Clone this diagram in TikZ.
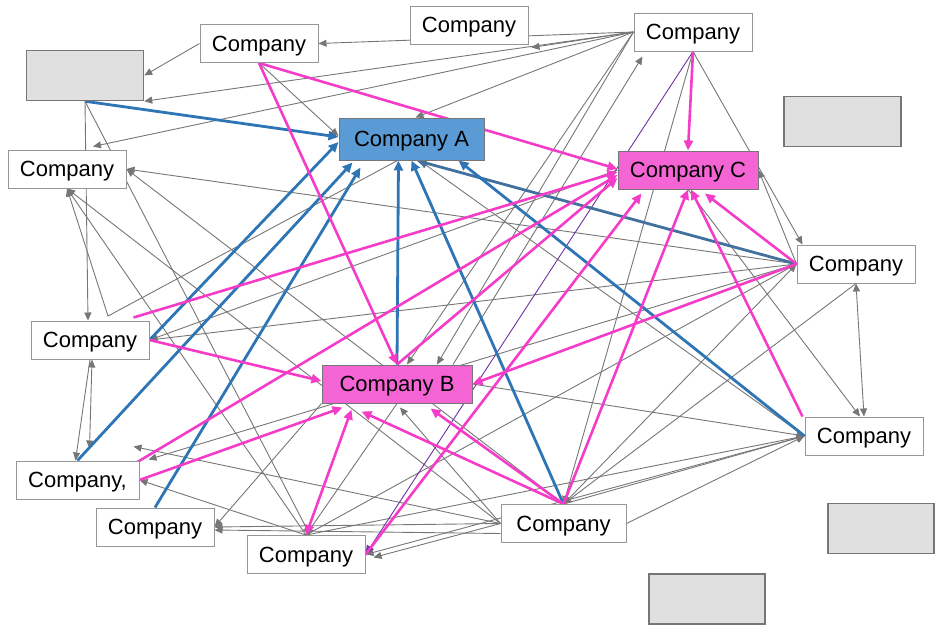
\documentclass[tikz,border=0pt]{standalone}
\usepackage{fontspec}
\setmainfont{Liberation Sans}
\usepackage{tikz}
\usetikzlibrary{arrows.meta,calc,backgrounds}
\definecolor{edgegray}{RGB}{118,118,118}
\definecolor{boxgray}{RGB}{150,150,150}
\definecolor{blankfill}{RGB}{224,224,224}
\definecolor{linkblue}{RGB}{46,117,182}
\definecolor{linksteel}{RGB}{65,113,156}
\definecolor{linkpink}{RGB}{245,60,200}
\definecolor{linkpurple}{RGB}{112,48,160}
\definecolor{firmblue}{RGB}{91,155,213}
\definecolor{firmpink}{RGB}{245,100,212}
\tikzset{
    company/.style = {rectangle, draw=boxgray, line width=1pt, fill=white, minimum width=118pt, minimum height=38pt, inner sep=0pt, text height=18pt, text depth=3pt, text centered, font=\fontsize{22}{26}\selectfont},
    blank/.style = {rectangle, draw=edgegray, line width=1.5pt, fill=blankfill, minimum width=117pt, minimum height=50pt},
    firmA/.style = {company, draw=edgegray, fill=firmblue, minimum width=145pt, minimum height=42pt},
    firmBC/.style = {company, draw=edgegray, fill=firmpink},
    gline/.style = {draw=edgegray, line width=0.9pt, -{Triangle[length=8pt,width=7pt]}},
    bline/.style = {draw=linkblue, line width=2.8pt, -{Triangle[length=10pt,width=9pt]}},
    pline/.style = {draw=linkpink, line width=2.6pt, -{Triangle[length=10pt,width=9pt]}}
}
\begin{document}
\begin{tikzpicture}[x=1pt, y=-1pt]
    \useasboundingbox (0,0) rectangle (935,625);

    % boxes
    \node [blank] (g1) at (85,75.5) {};
    \node [company] (t1) at (259,43.5) {Company};
    \node [company] (t2) at (469,25) {Company};
    \node [company] (t3) at (693,32) {Company};
    \node [blank] (g2) at (842.5,121.5) {};
    \node [firmA] (A) at (411.5,139) {Company A};
    \node [firmBC, minimum width=140pt] (C) at (688,170) {Company C};
    \node [company] (l1) at (67,169) {Company};
    \node [company] (r1) at (856,264) {Company};
    \node [company] (l2) at (90,340) {Company};
    \node [firmBC, minimum width=150pt] (B) at (397,384) {Company B};
    \node [company] (r2) at (864,436) {Company};
    \node [company, minimum width=123pt] (l3) at (77.5,480) {Company,};
    \node [company] (b1) at (155,527) {Company};
    \node [company] (b2) at (306,554.5) {Company};
    \node [company, minimum width=125pt] (b3) at (563.5,523.5) {Company};
    \node [blank, minimum width=106pt] (g3) at (881,528.5) {};
    \node [blank, minimum width=116pt] (g4) at (707,599) {};
    \coordinate (kink) at (108,316);

    \begin{pgfonlayer}{background}
    % grey links
    \draw [gline] (t3.west) -- (t1.east);
    \draw [gline] (t3.west) -- ($(t2.south east)+(3,3)$);
    \draw [gline] (t3.west) -- (g1.south east);
    \draw [gline] (t3.west) -- ($(l1.north)+(26,-3)$);
    \draw [gline] (t3.west) -- ($(A.north)+(4,0)$);
    \draw [gline] (t3.west) -- ($(B.north)+(10,0)$);
    \draw [gline] (t3.west) -- ($(B.north)+(40,0)$);
    \draw [gline] ($(B.north)+(56,0)$) -- ($(t3.south west)+(9,5)$);
    \draw [gline] (t1.west) -- (g1.east);
    \draw [gline] (t1.south) -- ($(A.west)+(0,-3)$);
    \draw [gline] (g1.south) -- ($(l2.north)+(-2,0)$);
    \draw [gline] (g1.south) -- ($(b2.north)+(4,0)$);
    \draw [gline] ($(A.south)+(-14,0)$) -- (kink) -- (l1.south);
    \draw [gline] (b2.north) -- (l1.south);
    \draw [gline] (b3.west) -- (l1.south);
    \draw [gline] (b3.north) -- (l1.east);
    \draw [gline] (r1.west) -- (l1.east);
    \draw [gline] (C.west) -- (l2.east);
    \draw [gline] (r1.west) -- (l2.east);
    \draw [gline] (l2.south) -- ($(l3.north)+(-2,0)$);
    \draw [gline, {Triangle[length=8pt,width=7pt]}-{Triangle[length=8pt,width=7pt]}] ($(l2.south)+(2,0)$) -- ($(l3.north)+(12,-12)$);
    \draw [gline] (b3.west) -- ($(l3.north east)+(-6,-14)$);
    \draw [gline] (r1.west) -- ($(l3.north east)+(9,-1)$);
    \draw [gline] (b2.north) -- (l3.east);
    \draw [gline] (B.south west) -- (b1.east);
    \draw [gline] (b3.west) -- (b1.east);
    \draw [gline] ($(b3.west)+(0,10)$) -- ($(b1.east)+(0,3)$);
    \draw [gline] (t3.south) -- (b3.north);
    \draw [gline] (r1.west) -- (C.east);
    \draw [gline] (t3.south) -- ($(r1.north west)+(6,0)$);
    \draw [gline] (C.south) -- ($(r2.north)+(-4,0)$);
    \draw [gline, {Triangle[length=8pt,width=7pt]}-{Triangle[length=8pt,width=7pt]}] (r1.south) -- (r2.north);
    \draw [gline] (r1.south) -- (b3.north);
    \draw [gline] (b2.north) -- (r1.west);
    \draw [gline] (b3.north) -- (r1.west);
    \draw [gline] (B.east) -- (r2.west);
    \draw [gline] (b3.north) -- (r2.west);
    \draw [gline] (b3.east) -- (r2.west);
    \draw [gline] (b2.north) -- (r2.west);
    \draw [gline] (r2.west) -- (b2.east);
    \draw [gline] (b3.west) -- ($(b2.east)+(8,3)$);
    \draw [gline] (b3.west) -- ($(B.south)+(3,4)$);
    \draw [gline] (B.south) -- (b2.north);
    \draw [gline] (r2.west) -- ($(A.south)+(8,0)$);

    % purple link
    \draw [draw=linkpurple, line width=0.9pt, -{Triangle[length=9pt,width=8pt]}] (t3.south) -- (b2.east);

    % blue links into Company A
    \draw [bline] (g1.south) -- ($(A.west)+(0,-2)$);
    \draw [bline] (l2.east) -- ($(A.west)+(0,3)$);
    \draw [bline] (l3.north) -- ($(A.south west)+(14,2)$);
    \draw [bline] (b1.north) -- ($(A.south west)+(22,7)$);
    \draw [bline] (B.north) -- ($(A.south)+(-13,0)$);
    \draw [bline] (b3.north) -- (A.south);
    \draw [bline, draw=linksteel] (r1.west) -- ($(A.south)+(5,0)$);
    \draw [bline] (r2.west) -- ($(A.south east)+(-26,0)$);

    % pink links
    \draw [pline] (t1.south) -- ($(C.west)+(0,-1)$);
    \draw [pline] (t1.south) -- (B.north);
    \draw [pline] (t3.south) -- (C.north);
    \draw [pline] ($(l2.north east)+(-16,-3)$) -- ($(C.west)+(0,2)$);
    \draw [pline] (l2.east) -- ($(B.west)+(0,-3)$);
    \draw [pline] ($(l3.north east)+(-3,2)$) -- ($(C.west)+(0,5)$);
    \draw [pline] (l3.east) -- ($(B.south west)+(21,4)$);
    \draw [pline, {Triangle[length=10pt,width=9pt]}-{Triangle[length=10pt,width=9pt]}] (b2.north) -- ($(B.south west)+(30,6)$);
    \draw [pline] (b3.north) -- ($(B.south west)+(40,8)$);
    \draw [pline] (b3.north) -- ($(B.south east)+(-42,5)$);
    \draw [pline] (b3.north) -- (C.south);
    \draw [pline] (r1.west) -- (B.east);
    \draw [pline] ($(r2.north west)+(-2,0)$) -- ($(C.south)+(3,0)$);
    \draw [pline] (r1.west) -- ($(C.south)+(17,4)$);
    \draw [pline] (B.north) -- ($(C.west)+(0,8)$);
    \draw [pline] (b2.east) -- ($(C.south west)+(24,4)$);
    \end{pgfonlayer}
\end{tikzpicture}
\end{document}
